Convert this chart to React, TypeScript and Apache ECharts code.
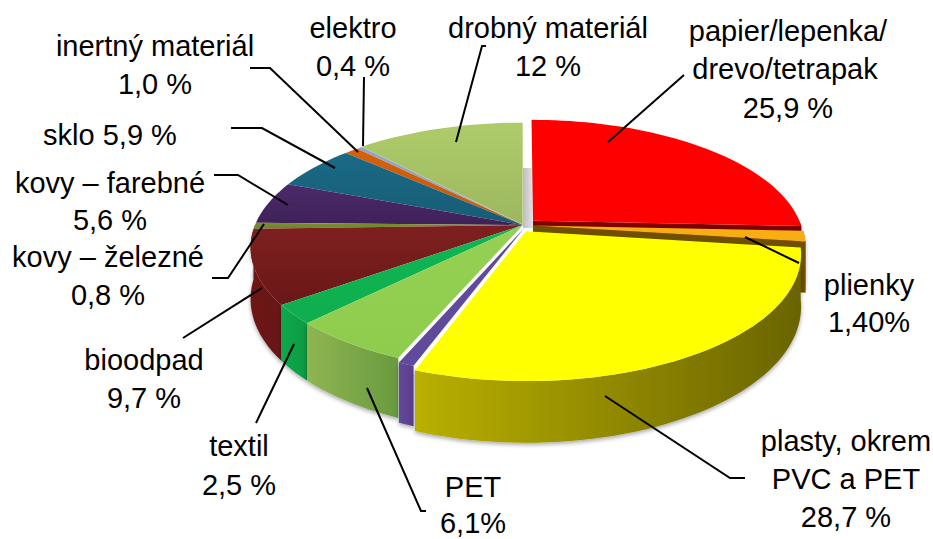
import React, { useEffect, useRef } from "react";
import * as echarts from "echarts";

const categories = ["papier/lepenka/drevo/tetrapak", "plienky", "plasty, okrem PVC a PET", "PVC", "PET", "textil", "bioodpad", "kovy – železné", "kovy – farebné", "sklo", "inertný materiál", "elektro", "drobný materiál"];
const values = [25.9, 1.4, 28.7, 0.8, 6.1, 2.5, 9.7, 0.8, 5.6, 5.9, 1.0, 0.4, 12];
const explode = [14, 10, 14, 7, 0, 0, 0, 0, 0, 0, 0, 0, 1];
const explodeDir: (number | null)[] = [null, null, 168, 170, null, null, null, null, null, null, null, null, null];
const paintOrder = [12, 11, 10, 9, 8, 7, 0, 1, 6, 5, 4, 3, 2];
const topLight = ["#ff0000", "#f7ae12", "#ffff00", "#604a9b", "#95d052", "#10b553", "#7f2020", "#7b8f30", "#4c2a6b", "#1a6a86", "#d6600c", "#8ea7c4", "#afcc6b"];
const topDark = ["#ff0000", "#f7ae12", "#ffff00", "#604a9b", "#8fcc4e", "#0fae4f", "#6a1717", "#6f8228", "#3f2158", "#175c74", "#c65808", "#8ea7c4", "#9cb75d"];
const wallLight = ["#8e0000", "#8a6500", "#b9b000", "#64479a", "#8fb552", "#0ea94b", "#6f1616", "#5f7020", "#3a1e50", "#124c60", "#a84a08", "#70869e", "#7f9848"];
const wallDark = ["#7e0000", "#6e5000", "#6a6400", "#5a3f8d", "#699a3f", "#0b9a42", "#661212", "#5f7020", "#3a1e50", "#124c60", "#a84a08", "#70869e", "#7f9848"];

const labelLines: [string, number, number][] = [
  ["elektro", 353, 28], ["0,4 %", 353, 66],
  ["drobný materiál", 548, 28], ["12 %", 548, 66],
  ["papier/lepenka/", 788, 31], ["drevo/tetrapak", 785, 69], ["25,9 %", 788, 108],
  ["inertný materiál", 155, 46], ["1,0 %", 155, 84],
  ["sklo 5,9 %", 110, 135],
  ["kovy – farebné", 110, 183], ["5,6 %", 110, 220],
  ["kovy – železné", 108, 257], ["0,8 %", 108, 295],
  ["plienky", 869, 285], ["1,40%", 869, 322],
  ["bioodpad", 144, 360], ["9,7 %", 144, 398],
  ["textil", 239, 446], ["2,5 %", 239, 485],
  ["PET", 473, 487], ["6,1%", 473, 523],
  ["plasty, okrem", 846, 441], ["PVC a PET", 846, 479], ["28,7 %", 846, 517],
];
const leaders: number[][][] = [
  [[364, 77], [363, 146]],
  [[250, 68], [270, 68], [358, 152]],
  [[231, 128], [262, 128], [335, 168]],
  [[214, 175], [238, 175], [288, 205]],
  [[212, 278], [228, 278], [264, 224]],
  [[486, 46], [482, 46], [456, 142]],
  [[684, 75], [608, 142]],
  [[745, 237], [799, 263]],
  [[183, 338], [262, 288]],
  [[256, 423], [294, 344]],
  [[367, 388], [421, 511], [426, 511]],
  [[605, 396], [730, 478], [745, 478]],
];

const CX = 523, CY = 225, R = 268, RY = 120.4, K = 0.18, H = 50;
const total = values.reduce((a, b) => a + b, 0);
const rad = (d: number) => (d * Math.PI) / 180;

function proj(theta: number, r: number, dir: number, e: number, down: number) {
  const u = r * Math.sin(rad(theta)) + (e / R) * Math.sin(rad(dir));
  const v = -r * Math.cos(rad(theta)) - (e / R) * Math.cos(rad(dir));
  const w = 1 / (1 - K * v);
  return [CX + R * u * w, CY + RY * v * w + H * w * down];
}

function arcPts(a0: number, a1: number, dir: number, e: number, down: number) {
  const n = Math.max(2, Math.ceil(Math.abs(a1 - a0) / 2));
  const pts: number[][] = [];
  for (let i = 0; i <= n; i++) pts.push(proj(a0 + ((a1 - a0) * i) / n, 1, dir, e, down));
  return pts;
}

const hGrad = (a: string, b: string, v = false) =>
  new echarts.graphic.LinearGradient(0, 0, v ? 0 : 1, v ? 1 : 0, [
    { offset: 0, color: a },
    { offset: 1, color: b },
  ]);

function renderSlice(params: any, api: any) {
  const i = params.dataIndex;
  let cum = 0;
  for (let j = 0; j < i; j++) cum += values[j];
  const a0 = (cum / total) * 360;
  const a1 = ((cum + api.value(0)) / total) * 360;
  const dir = explodeDir[i] ?? (a0 + a1) / 2;
  const e = explode[i];
  const z2 = paintOrder.indexOf(i) * 2;
  const children: any[] = [];
  const wall0 = Math.max(a0, 90), wall1 = Math.min(a1, 270);
  const shadow = { shadowColor: "rgba(0,0,0,0.35)", shadowBlur: 4, shadowOffsetY: 2 };
  if (wall1 > wall0) {
    const top = arcPts(wall0, wall1, dir, e, 0);
    const bot = arcPts(wall1, wall0, dir, e, 1);
    children.push({
      type: "polygon", z2,
      shape: { points: top.concat(bot) },
      style: { fill: hGrad(wallLight[i], wallDark[i]), ...shadow },
    });
  }
  if (a1 < 180) {
    const c0 = proj(0, 0, dir, e, 0), c1 = proj(0, 0, dir, e, 1);
    const p0 = proj(a1, 1, dir, e, 0), p1 = proj(a1, 1, dir, e, 1);
    children.push({
      type: "polygon", z2,
      shape: { points: [c0, p0, p1, c1] },
      style: { fill: wallDark[i] },
    });
  }
  children.push({
    type: "polygon", z2: z2 + 1,
    shape: { points: [proj(0, 0, dir, e, 0), ...arcPts(a0, a1, dir, e, 0)] },
    style: { fill: hGrad(topLight[i], topDark[i], true) },
  });
  return { type: "group", children };
}

export default function App() {
  const ref = useRef<HTMLDivElement>(null);
  useEffect(() => {
    document.body.style.margin = "0";
    const chart = echarts.init(ref.current!, undefined, { renderer: "svg" });
    chart.setOption({
      animation: false,
      backgroundColor: "#ffffff",
      series: [
        {
          type: "custom",
          coordinateSystem: "none",
          silent: true,
          renderItem: renderSlice,
          data: values.map((v, i) => ({ name: categories[i], value: [v] })),
        },
      ],
      graphic: {
        elements: [
          {
            type: "rect", z: 1,
            shape: { x: 523, y: 168, width: 10, height: 60 },
            style: { fill: hGrad("#bdbdbd", "#e4e4e4") },
          },
          ...leaders.map((pts) => ({
            type: "polyline", z: 50,
            shape: { points: pts },
            style: { stroke: "#000000", lineWidth: 2, fill: "none" },
          })),
          ...labelLines.map(([text, x, y]) => ({
            type: "text", z: 60, x, y,
            style: {
              text,
              fill: "#000000",
              font: '29px "Liberation Sans", Arial, sans-serif',
              textAlign: "center",
              textVerticalAlign: "middle",
            },
          })),
        ],
      },
    });
    return () => chart.dispose();
  }, []);
  return <div ref={ref} style={{ position: "absolute", left: 0, top: 0, width: 933, height: 539 }} />;
}
